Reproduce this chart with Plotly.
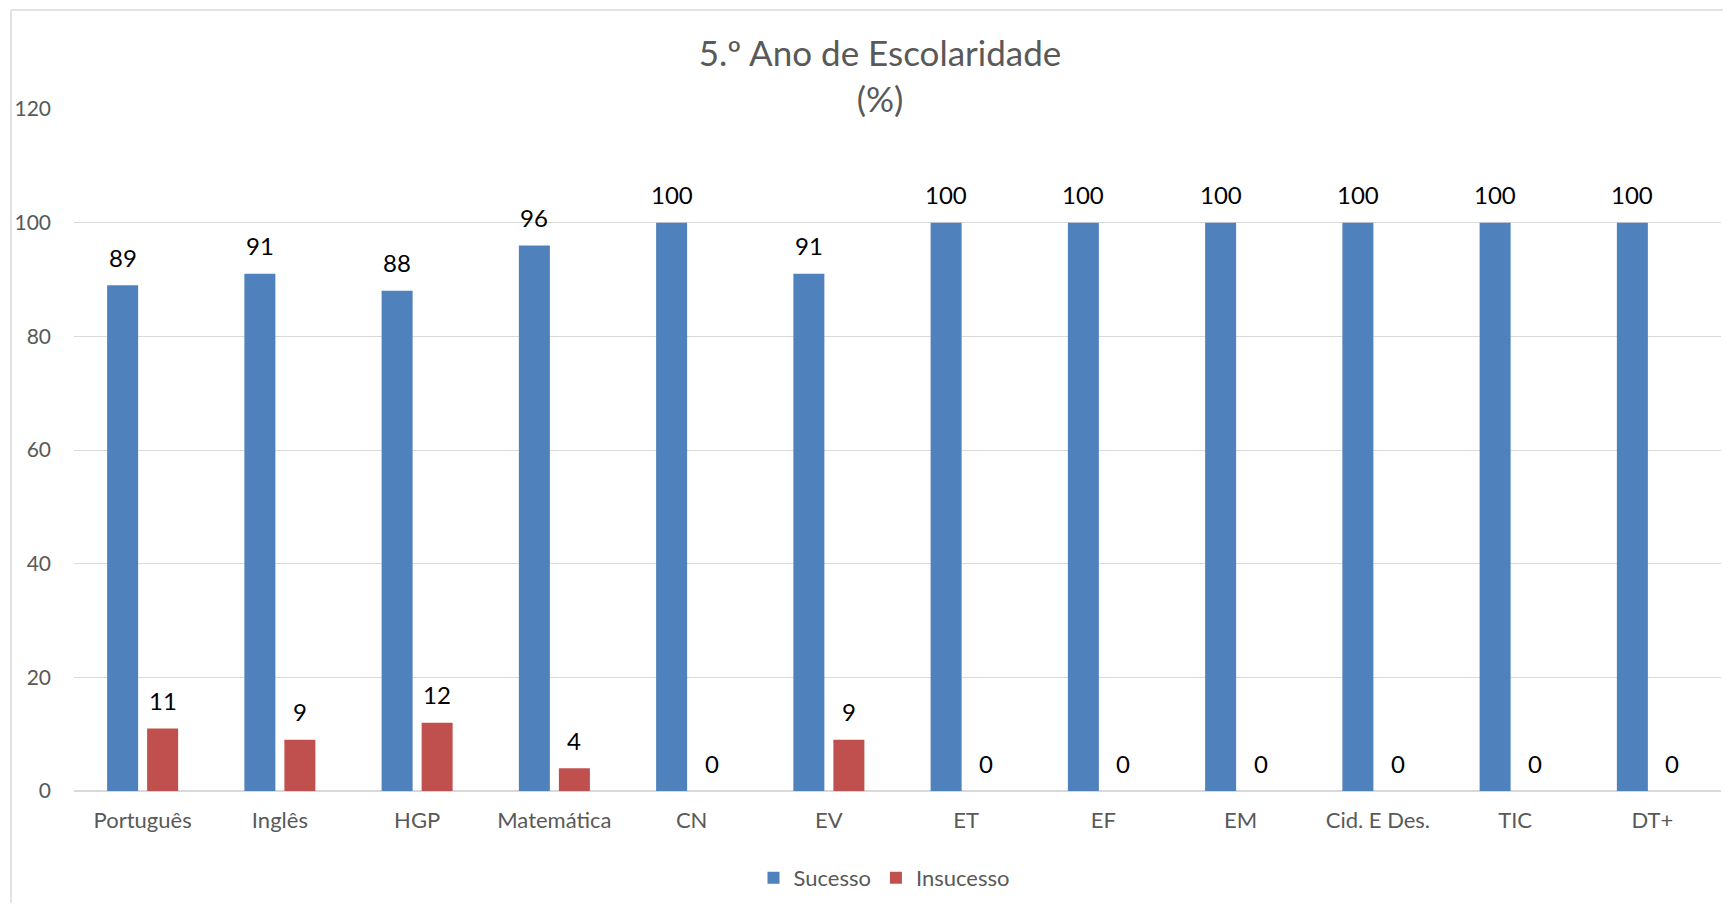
import plotly.graph_objects as go

categories = ["Português", "Inglês", "HGP", "Matemática", "CN", "EV", "ET", "EF", "EM", "Cid. E Des.", "TIC", "DT+"]
sucesso = [89, 91, 88, 96, 100, 91, 100, 100, 100, 100, 100, 100]
insucesso = [11, 9, 12, 4, 0, 9, 0, 0, 0, 0, 0, 0]
y_ticks = [0, 20, 40, 60, 80, 100, 120]

# the page body adds an 8px offset; the figure is sized/placed to compensate
OFF = 8
W, H = 1715, 895
ML, MT = 74 - OFF, 109 - OFF
MR = W - (1721 - OFF)
MB = H - (791 - OFF)
FONT = "Lato"
GREY = "#595959"
GRID = "#D9D9D9"

fig = go.Figure()
fig.add_trace(go.Bar(name="Sucesso", x=categories, y=sucesso,
                     marker=dict(color="#4F81BD", line=dict(width=0))))
fig.add_trace(go.Bar(name="Insucesso", x=categories, y=insucesso,
                     marker=dict(color="#C0504D", line=dict(width=0))))

bargap = 0.417
plot_w = W - ML - MR
plot_h = H - MT - MB
slot = (1 - bargap) * plot_w / len(categories) / 2
annotations = []
for i, c in enumerate(categories):
    for vals, sh in ((sucesso, -slot / 2), (insucesso, slot / 2)):
        annotations.append(dict(x=c, y=vals[i], xref="x", yref="y", text=str(vals[i]),
                                showarrow=False, xshift=sh, yshift=28, yanchor="middle",
                                font=dict(family=FONT, size=24, color="#000000")))

def px_to_paper_x(px):
    return (px - OFF - ML) / plot_w
def px_to_paper_y(py):
    return (H - MB - (py - OFF)) / plot_h

shapes = [
    dict(type="line", xref="paper", yref="paper", x0=px_to_paper_x(11), x1=px_to_paper_x(1740),
         y0=px_to_paper_y(10), y1=px_to_paper_y(10), line=dict(color=GRID, width=1.5)),
    dict(type="line", xref="paper", yref="paper", x0=px_to_paper_x(11), x1=px_to_paper_x(11),
         y0=px_to_paper_y(10), y1=px_to_paper_y(920), line=dict(color=GRID, width=1.5)),
]

fig.update_layout(
    width=W, height=H,
    margin=dict(l=ML, r=MR, t=MT, b=MB),
    paper_bgcolor="white", plot_bgcolor="white",
    barmode="group", bargap=bargap, bargroupgap=0.225,
    title=dict(text="5.º Ano de Escolaridade<br>(%)", x=px_to_paper_x(880), xref="paper",
               xanchor="center", y=1 - (66 - OFF) / H, yref="container", yanchor="middle",
               font=dict(family=FONT, size=35, color=GREY)),
    font=dict(family=FONT, color=GREY),
    xaxis=dict(showgrid=False, showline=False, zeroline=False, ticks="",
               tickfont=dict(family=FONT, size=22, color=GREY), ticklabelstandoff=14),
    yaxis=dict(range=[0, 120], tickvals=y_ticks, showgrid=True, gridcolor=GRID, gridwidth=1.2,
               zeroline=True, zerolinecolor=GRID, zerolinewidth=2, showline=False, ticks="",
               tickfont=dict(family=FONT, size=21, color=GREY), ticklabelstandoff=22),
    legend=dict(orientation="h", x=px_to_paper_x(884), xanchor="center",
                y=px_to_paper_y(878), yanchor="middle",
                font=dict(family=FONT, size=22, color=GREY)),
    annotations=annotations,
    shapes=shapes,
)

fig.write_html("out.html")
